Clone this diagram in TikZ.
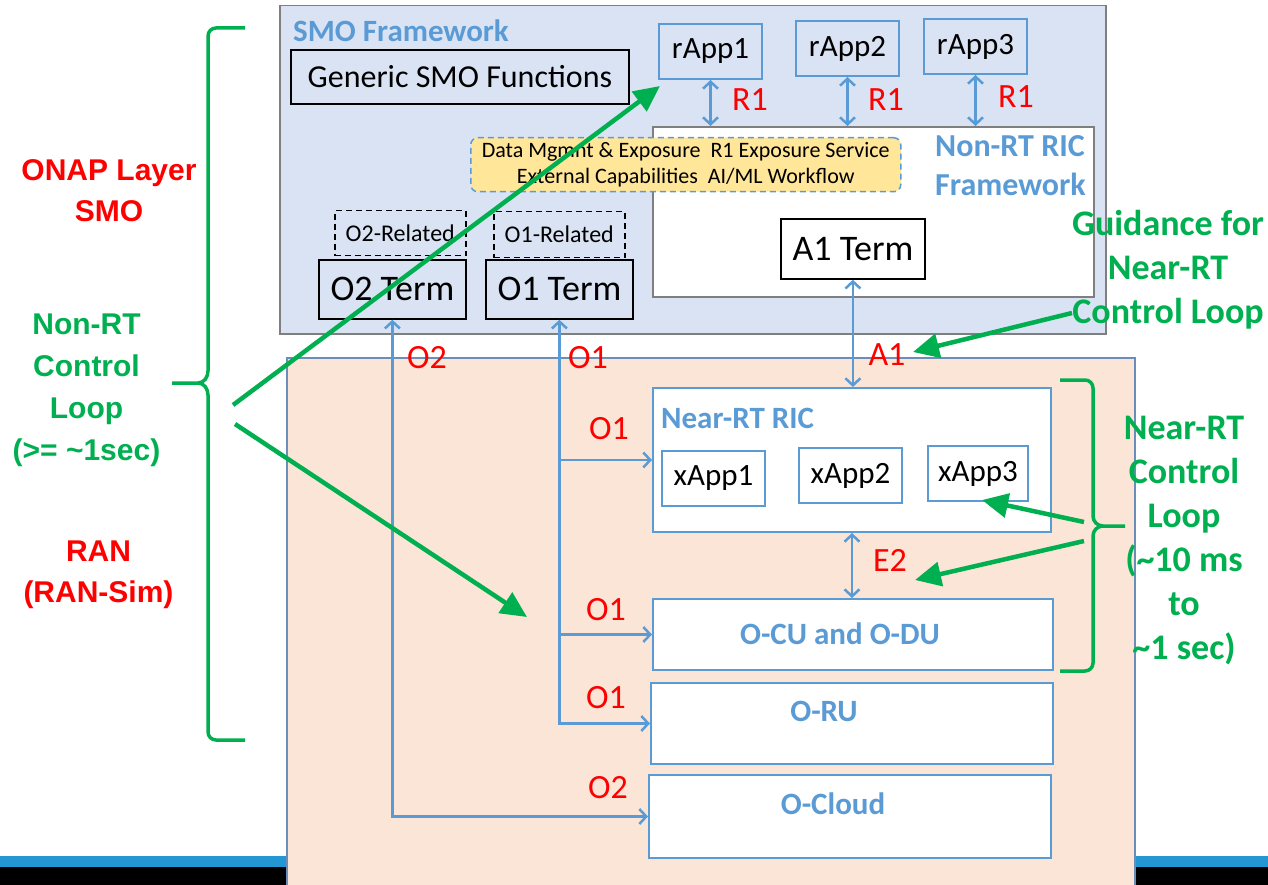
\documentclass[tikz,border=0pt]{standalone}
\usepackage{fontspec}
\setmainfont{Carlito}
\newfontfamily\arialb{Liberation Sans}[BoldFont={Liberation Sans Bold}]
\usetikzlibrary{arrows.meta}
\definecolor{smofill}{HTML}{DAE3F3}
\definecolor{ranfill}{HTML}{FBE5D6}
\definecolor{lblue}{HTML}{5B9BD5}
\definecolor{ggreen}{HTML}{00B050}
\definecolor{rred}{HTML}{FF0000}
\definecolor{yel}{HTML}{FFE699}
\definecolor{barblue}{HTML}{2396D4}
\definecolor{frgray}{HTML}{7F7F7F}
\definecolor{ranborder}{HTML}{6A8DBA}
\begin{document}
\begin{tikzpicture}[x=1pt,y=-1pt,
  corner/.style={anchor=north west, inner sep=0pt},
  blkbox/.style={corner, draw=black, line width=1.8pt},
  bluebox/.style={corner, draw=lblue, line width=2pt},
  dashbox/.style={corner, draw=black, line width=1.5pt, dash pattern=on 6pt off 4pt},
  bluebold/.style={text=lblue, font=\fontsize{31}{36}\selectfont\bfseries, inner sep=0pt},
  redlbl/.style={text=rred, font=\fontsize{34}{40}\selectfont, inner sep=0pt},
  redside/.style={text=rred, font=\arialb\fontsize{30}{41}\selectfont\bfseries, align=center, inner sep=0pt},
  greenside/.style={text=ggreen, font=\arialb\fontsize{30}{42}\selectfont\bfseries, align=center, inner sep=0pt},
  greenright/.style={text=ggreen, font=\fontsize{36}{44}\selectfont\bfseries, align=center, inner sep=0pt},
  barrow/.style={draw=lblue, line width=2.5pt, {Straight Barb[length=7pt,width=15pt]}-{Straight Barb[length=7pt,width=15pt]}},
  sarrow/.style={draw=lblue, line width=2.5pt, -{Straight Barb[length=7pt,width=15pt]}},
  garrow/.style={draw=ggreen, line width=4.5pt, -{Triangle[length=26pt,width=24pt]}},
  brace/.style={draw=ggreen, line width=3.5pt}
]
\clip (0,0) rectangle (1268,885);
\fill[white] (0,0) rectangle (1268,885);
\fill[barblue] (0,856) rectangle (1268,867);
\fill[black] (0,867) rectangle (1268,885);

% main frames
\node[corner, draw=frgray, fill=smofill, line width=1.5pt, minimum width=826pt, minimum height=328pt] (smo) at (279,5) {};
\node[corner, draw=ranborder, fill=ranfill, line width=1.5pt, minimum width=848pt, minimum height=545pt] (ran) at (286,357) {};

\node[bluebold, anchor=base west] (smolbl) at (293,42) {SMO Framework};
\node[blkbox, minimum width=338pt, minimum height=54pt, font=\fontsize{32}{36}\selectfont] (generic) at (290,49) {Generic SMO Functions};

% rApps
\node[bluebox, minimum width=103pt, minimum height=55pt, font=\fontsize{31}{36}\selectfont] (rapp1) at (658,23) {rApp1};
\node[bluebox, minimum width=103pt, minimum height=55pt, font=\fontsize{31}{36}\selectfont] (rapp2) at (795,20) {rApp2};
\node[bluebox, minimum width=103pt, minimum height=55pt, font=\fontsize{31}{36}\selectfont] (rapp3) at (923,18) {rApp3};

% Non-RT RIC
\node[corner, draw=frgray, fill=white, line width=2pt, minimum width=441pt, minimum height=170pt] (nonrt) at (652,126) {};
\node[bluebold, font=\fontsize{32}{39}\selectfont\bfseries, align=left, anchor=west] (nonrtlbl) at (935,166) {Non-RT RIC\\Framework};

\draw[barrow] (rapp1.south) -- (rapp1.south |- nonrt.north);
\draw[barrow] (rapp2.south) -- (rapp2.south |- nonrt.north);
\draw[barrow] (rapp3.south) -- (rapp3.south |- nonrt.north);
\node[redlbl] (r1a) at (750,100) {R1};
\node[redlbl] (r1b) at (886,100) {R1};
\node[redlbl] (r1c) at (1016,97) {R1};

\node[corner, draw=lblue, fill=yel, line width=1.5pt, dash pattern=on 6pt off 4pt, rounded corners=7pt, minimum width=430pt, minimum height=54pt, align=center, font=\fontsize{22}{26}\selectfont] (ext) at (470,137) {Data Mgmnt \& Exposure~ R1 Exposure Service\\External Capabilities~ AI/ML Workflow};

\node[blkbox, fill=white, minimum width=144pt, minimum height=60pt, font=\fontsize{36}{40}\selectfont] (a1term) at (780,218) {A1 Term};

\node[dashbox, minimum width=131pt, minimum height=45pt, font=\fontsize{24}{28}\selectfont] (o2rel) at (334,210) {O2-Related};
\node[dashbox, minimum width=131pt, minimum height=46pt, font=\fontsize{24}{28}\selectfont] (o1rel) at (493,211) {O1-Related};
\node[blkbox, minimum width=147pt, minimum height=59pt, font=\fontsize{36}{40}\selectfont] (o2term) at (318,259) {O2 Term};
\node[blkbox, minimum width=147pt, minimum height=59pt, font=\fontsize{36}{40}\selectfont] (o1term) at (485,259) {O1 Term};

% RAN side
\node[bluebox, fill=white, minimum width=398pt, minimum height=144pt] (nearrt) at (652,387) {};
\node[bluebold, anchor=base west] (nearrtlbl) at (661,428) {Near-RT RIC};
\node[bluebox, minimum width=103pt, minimum height=55pt, font=\fontsize{31}{36}\selectfont] (xapp1) at (661,450) {xApp1};
\node[bluebox, minimum width=103pt, minimum height=55pt, font=\fontsize{31}{36}\selectfont] (xapp2) at (798,447) {xApp2};
\node[bluebox, minimum width=100pt, minimum height=55pt, font=\fontsize{31}{36}\selectfont] (xapp3) at (927,445) {xApp3};

\node[bluebox, fill=white, minimum width=400pt, minimum height=71pt] (ocu) at (652,598) {};
\node[bluebold] (oculbl) at (840,634) {O-CU and O-DU};
\node[bluebox, fill=white, minimum width=402pt, minimum height=81pt] (oru) at (650,682) {};
\node[bluebold] (orulbl) at (824,711) {O-RU};
\node[bluebox, fill=white, minimum width=402pt, minimum height=83pt] (ocloud) at (648,774) {};
\node[bluebold] (ocloudlbl) at (833,804) {O-Cloud};

% interfaces
\draw[barrow] (a1term.south) -- (a1term.south |- nearrt.north);
\node[redlbl] (a1lbl) at (887,355) {A1};
\draw[barrow] (nearrt.south) -- (nearrt.south |- ocu.north);
\node[redlbl] (e2lbl) at (890,560) {E2};

\draw[barrow] (o2term.south) |- (ocloud.west);
\draw[barrow] (o1term.south) |- (oru.west);
\draw[sarrow] (o1term.south |- nearrt.west) -- (nearrt.west);
\draw[sarrow] (o1term.south |- ocu.west) -- (ocu.west);
\node[redlbl] (o2a) at (427,358) {O2};
\node[redlbl] (o1a) at (588,358) {O1};
\node[redlbl] (o1b) at (609,429) {O1};
\node[redlbl] (o1c) at (606,610) {O1};
\node[redlbl] (o1d) at (606,698) {O1};
\node[redlbl] (o2b) at (608,788) {O2};

% side texts
\node[redside] (onap) at (109,191) {ONAP Layer\\SMO};
\node[greenside] (nonrtcl) at (86.5,390) {Non-RT\\Control\\Loop\\(>= \textasciitilde1sec)};
\node[redside] (ranlbl) at (98.5,575) {RAN\\(RAN-Sim)};
\node[greenright] (guid) at (1168,270) {Guidance for\\Near-RT\\Control Loop};
\node[greenright] (nearcl) at (1184,541) {Near-RT\\Control\\Loop\\(\textasciitilde10 ms\\to\\\textasciitilde1 sec)};

% braces
\draw[brace] (245,28) -- (216,28) to[out=180,in=90] (208,36) -- (208,371) to[out=-90,in=0] (198,383) -- (172,383);
\draw[brace] (198,383) to[out=0,in=90] (208,395) -- (208,732) to[out=-90,in=180] (216,740) -- (245,740);
\draw[brace] (1060,380) -- (1085,380) to[out=0,in=90] (1093,388) -- (1093,516) to[out=-90,in=180] (1103,526) -- (1125,526);
\draw[brace] (1103,526) to[out=180,in=90] (1093,536) -- (1093,663) to[out=-90,in=0] (1085,671) -- (1060,671);

% green arrows
\coordinate (g1s) at (233,405);
\coordinate (g1e) at (660,86);
\coordinate (g2s) at (235,424);
\coordinate (g2e) at (527,617);
\coordinate (g3s) at (1072,313);
\coordinate (g3e) at (913,352);
\coordinate (g4s) at (1084,522);
\coordinate (g4e) at (982,500);
\coordinate (g5s) at (1084,541);
\coordinate (g5e) at (915,580);
\draw[garrow] (g1s) -- (g1e);
\draw[garrow] (g2s) -- (g2e);
\draw[garrow] (g3s) -- (g3e);
\draw[garrow] (g4s) -- (g4e);
\draw[garrow] (g5s) -- (g5e);
\end{tikzpicture}
\end{document}
